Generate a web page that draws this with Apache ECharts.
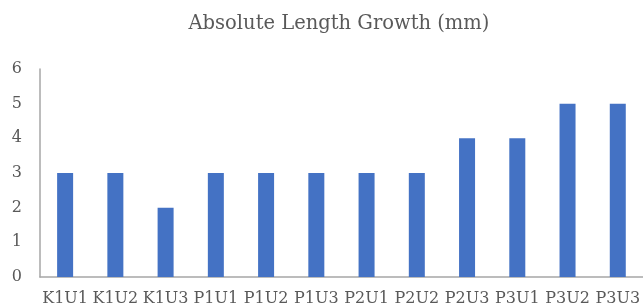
<!DOCTYPE html>
<html>
<head>
<meta charset="utf-8">
<script src="https://cdn.jsdelivr.net/npm/echarts@6/dist/echarts.min.js"></script>
<style>
  html, body { margin: 0; padding: 0; background: #fff; }
  #main { width: 643px; height: 307px; }
</style>
</head>
<body>
<div id="main"></div>
<script>
var categories = ['K1U1', 'K1U2', 'K1U3', 'P1U1', 'P1U2', 'P1U3', 'P2U1', 'P2U2', 'P2U3', 'P3U1', 'P3U2', 'P3U3'];
var growth = [3, 3, 2, 3, 3, 3, 3, 3, 4, 4, 5, 5];

var chart = echarts.init(document.getElementById('main'));
var labelFont = 'DejaVu Serif';

chart.setOption({
  animation: false,
  title: {
    text: 'Absolute Length Growth (mm)',
    left: 334,
    top: 9,
    textAlign: 'center',
    textStyle: { fontFamily: labelFont, fontSize: 19.5, fontWeight: 'normal', color: '#595959' }
  },
  grid: { left: 40, top: 69, width: 605, bottom: 30 },
  xAxis: {
    type: 'category',
    data: categories,
    axisLine: { lineStyle: { color: '#a6a6a6', width: 1.5 } },
    axisTick: { show: false },
    axisLabel: { color: '#595959', fontFamily: labelFont, fontSize: 16, margin: 14, interval: 0 }
  },
  yAxis: {
    type: 'value',
    min: 0,
    max: 6,
    interval: 1,
    axisLine: { show: true, lineStyle: { color: '#a6a6a6', width: 1.5 } },
    axisTick: { show: false },
    splitLine: { show: false },
    axisLabel: { color: '#595959', fontFamily: labelFont, fontSize: 16, margin: 18 }
  },
  series: [{
    type: 'bar',
    data: growth,
    barWidth: 16,
    itemStyle: { color: '#4472C4' }
  }]
});
</script>
</body>
</html>
